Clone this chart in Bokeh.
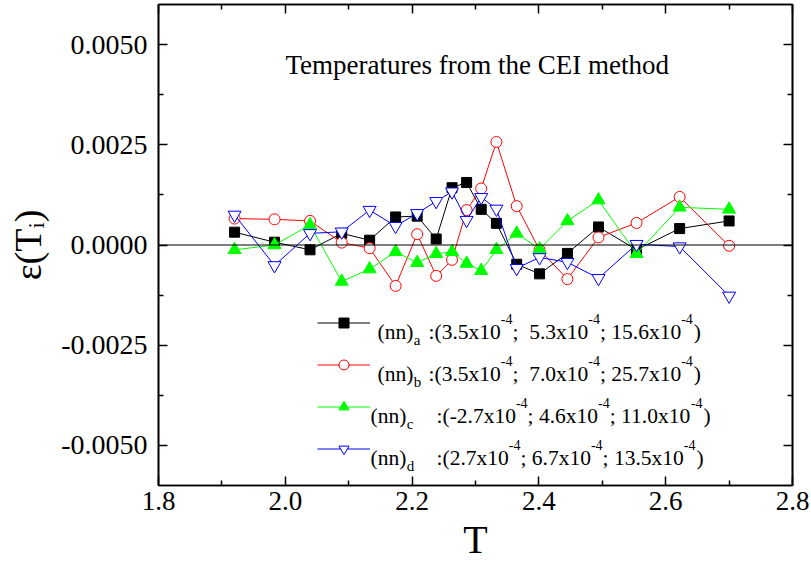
import math
from bokeh.plotting import figure
from bokeh.models import (Range1d, FixedTicker, PrintfTickFormatter, LinearAxis, Span,
                          Label, Legend, LegendItem, CustomJSTickFormatter)
from bokeh.embed import file_html
from bokeh.resources import INLINE

# ---------------- data ----------------
T = [1.920, 1.983, 2.039, 2.089, 2.133, 2.174, 2.208, 2.238, 2.263, 2.286,
     2.309, 2.333, 2.365, 2.401, 2.445, 2.494, 2.554, 2.622, 2.700]
eps_a = [0.00032, 0.00007, -0.00012, 0.00029, 0.00012, 0.00070, 0.00072, 0.00015, 0.00143, 0.00156,
         0.00089, 0.00054, -0.00048, -0.00072, -0.00021, 0.00045, -0.00012, 0.00041, 0.00060]
eps_b = [0.00066, 0.00064, 0.00060, 0.00006, -0.00008, -0.00102, 0.00027, -0.00077, -0.00037, 0.00087,
         0.00141, 0.00257, 0.00097, -0.00012, -0.00085, 0.00019, 0.00055, 0.00120, -0.00002]
eps_c = [-0.00012, 0.00000, 0.00050, -0.00091, -0.00060, -0.00017, -0.00044, -0.00022, -0.00017, -0.00046,
         -0.00064, -0.00012, 0.00029, -0.00010, 0.00060, 0.00112, -0.00022, 0.00094, 0.00089]
eps_d = [0.00075, -0.00051, 0.00029, 0.00033, 0.00087, 0.00047, 0.00079, 0.00109, 0.00133, 0.00062,
         0.00119, 0.00090, -0.00058, -0.00031, -0.00043, -0.00083, 0.00002, -0.00004, -0.00127]

x_ticks = [1.8, 2.0, 2.2, 2.4, 2.6, 2.8]
x_minor = [1.9, 2.1, 2.3, 2.5, 2.7]
y_ticks = [-0.005, -0.0025, 0.0, 0.0025, 0.005]
y_minor = [-0.00375, -0.00125, 0.00125, 0.00375]

legend_subs = ["a", "b", "c", "d"]
legend_vals = [["3.5", "5.3", "15.6"], ["3.5", "7.0", "25.7"],
               ["-2.7", "4.6", "11.0"], ["2.7", "6.7", "13.5"]]
title_text = "Temperatures from the CEI method"
x_title = "T"
y_title = "ε(Tᵢ)"

# ---------------- layout ----------------
W, H = 811, 567
LEFT, RIGHT, TOP, BOTTOM = 158, 792, 4, 485
FONT = "Liberation Serif"

p = figure(width=W, height=H, x_range=Range1d(1.8, 2.8), y_range=Range1d(-0.006, 0.006),
           output_backend="svg", toolbar_location=None,
           min_border_left=LEFT, min_border_right=W - RIGHT,
           min_border_top=TOP, min_border_bottom=H - BOTTOM,
           background_fill_color="white", border_fill_color="white")
p.xgrid.visible = False
p.ygrid.visible = False
p.outline_line_color = "black"
p.outline_line_width = 1.6


def style_axis(ax, ticks, minor, fmt, show_labels, size):
    ax.ticker = FixedTicker(ticks=ticks, minor_ticks=minor)
    ax.major_tick_in = 9
    ax.major_tick_out = 0
    ax.minor_tick_in = 5
    ax.minor_tick_out = 0
    ax.major_tick_line_width = 1.5
    ax.minor_tick_line_width = 1.5
    ax.axis_line_width = 1.6
    ax.axis_line_color = "black"
    ax.major_tick_line_color = "black"
    ax.minor_tick_line_color = "black"
    ax.major_label_text_color = "black"
    ax.axis_label_text_font = FONT
    ax.axis_label_text_font_style = "normal"
    ax.axis_label_text_color = "black"
    if show_labels:
        ax.formatter = PrintfTickFormatter(format=fmt)
        ax.major_label_text_font_size = size
    else:
        ax.formatter = CustomJSTickFormatter(code="return ''")
        ax.major_label_standoff = 0


style_axis(p.xaxis[0], x_ticks, x_minor, "%.1f", True, "27px")
p.xaxis[0].major_label_standoff = 6
p.xaxis[0].axis_label = x_title
p.xaxis[0].axis_label_text_font_size = "40px"
p.xaxis[0].axis_label_standoff = 4

style_axis(p.yaxis[0], y_ticks, y_minor, "%.4f", True, "28px")
p.yaxis[0].major_label_standoff = 11
p.yaxis[0].axis_label = y_title
p.yaxis[0].axis_label_text_font_size = "38px"
p.yaxis[0].axis_label_standoff = 9

top_ax = LinearAxis()
style_axis(top_ax, x_ticks, x_minor, "%.1f", False, "0px")
p.add_layout(top_ax, "above")
right_ax = LinearAxis()
style_axis(right_ax, y_ticks, y_minor, "%.4f", False, "0px")
p.add_layout(right_ax, "right")

p.axis.major_label_text_font = FONT

p.add_layout(Span(location=0, dimension="width", line_color="black", line_width=1.2))

# ---------------- series ----------------
series = [
    (eps_a, "black", "square", 10, "black"),
    (eps_b, "red", "circle", 11, "white"),
    (eps_c, "#00ff00", "triangle", 13, "#00ff00"),
    (eps_d, "blue", "inverted_triangle", 13, "white"),
]
items = []
for ys, col, mk, sz, fill in series:
    lr = p.line(T, ys, line_color=col, line_width=1)
    sr = p.scatter(T, ys, marker=mk, size=sz, line_color=col, fill_color=fill, line_width=1)
    items.append(LegendItem(label=" ", renderers=[lr, sr]))

legend = Legend(items=items, location=(317 - LEFT, BOTTOM - 461), orientation="vertical",
                glyph_width=53, glyph_height=25, label_height=25, spacing=17,
                padding=0, margin=0, border_line_color=None, background_fill_alpha=0,
                label_standoff=0, label_text_font_size="1px", label_width=0)
p.add_layout(legend)

# ---------------- text helpers ----------------
ADV = {'(': 333, ')': 333, 'n': 500, 'a': 444, 'b': 500, 'c': 444, 'd': 500, ':': 278,
       ';': 278, ' ': 250, '.': 250, 'x': 500, '-': 333}
for dch in "0123456789":
    ADV[dch] = 500


def add_text(cx, cy, s, size, angle=0.0, align="left", baseline="alphabetic"):
    p.add_layout(Label(x=cx - LEFT, y=BOTTOM - cy, x_units="screen", y_units="screen",
                       text=s, text_font=FONT, text_font_size=f"{size}px",
                       text_color="black", angle=angle, text_align=align,
                       text_baseline=baseline))


def put_run(cx, cy, s, size):
    pos = cx
    word = ""
    start = cx
    for ch in s:
        if ch == " ":
            if word:
                add_text(start, cy, word, size)
                word = ""
            pos += ADV[ch] * size / 1000.0
        else:
            if not word:
                start = pos
            word += ch
            pos += ADV[ch] * size / 1000.0
    if word:
        add_text(start, cy, word, size)
    return pos


# title
add_text(285, 64, title_text, 27)

# legend texts
MAIN, SUBS, SUPS = 21.5, 15, 14
row_centers = [323, 365, 407, 449]
name_x = [377, 377, 370, 370]
colon_x = [428, 428, 436, 436]
dbl = [True, True, False, False]
for i in range(4):
    cy = row_centers[i]
    base = cy + 8
    x = put_run(name_x[i], base, "(nn)", MAIN)
    put_run(x + 0.5, cy + 16, legend_subs[i], SUBS)
    v = legend_vals[i]
    x = put_run(colon_x[i], base, ":(" + v[0] + "x10", MAIN)
    x = put_run(x, base - 13, "-4", SUPS)
    x = put_run(x, base, (";  " if dbl[i] else "; ") + v[1] + "x10", MAIN)
    x = put_run(x, base - 13, "-4", SUPS)
    x = put_run(x, base, "; " + v[2] + "x10", MAIN)
    x = put_run(x, base - 13, "-4", SUPS)
    put_run(x + 1, base, ")", MAIN)

open("out.html", "w").write(file_html(p, INLINE))
